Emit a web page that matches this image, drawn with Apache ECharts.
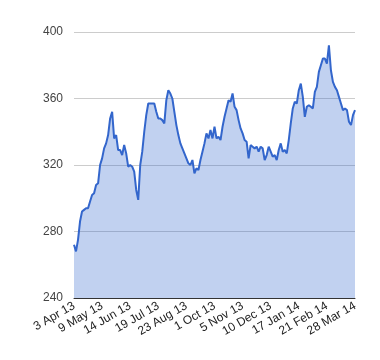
<!DOCTYPE html>
<html>
<head>
<meta charset="utf-8">
<script src="https://cdn.jsdelivr.net/npm/echarts@6/dist/echarts.min.js"></script>
<style>
html,body{margin:0;padding:0;background:#fff;}
#chart{width:380px;height:360px;}
</style>
</head>
<body>
<div id="chart"></div>
<script>
// Tick labels shown every 14 samples along the x axis
var tickLabels = ['3 Apr 13','9 May 13','14 Jun 13','19 Jul 13','23 Aug 13','1 Oct 13','5 Nov 13','10 Dec 13','17 Jan 14','21 Feb 14','28 Mar 14'];
var labelStep = 14;

// Series values (3 Apr 13 .. 28 Mar 14)
var values = [
  272,268,275,286,292,293,294,294,298,302,
  303,308,309,320,324,330,333,338,348,352,
  336,338,329,329,326,332,327,319,320,319,
  316,305,299,320,328,340,350,357,357,357,
  357,352,348,348,347,345,359,365,363,360,
  352,344,338,333,330,327,324,321,320,323,
  315,318,317,323,328,333,339,336,341,336,
  343,336,337,335,343,349,354,359,358,363,
  355,353,347,342,339,335,334,324,332,331,
  330,331,328,331,330,323,326,331,328,325,
  326,323,329,333,328,329,327,335,345,354,
  358,357,365,369,361,349,355,356,355,354,
  364,367,376,380,384,384,381,392,377,370,
  367,365,361,357,353,354,353,346,344,350,
  353
];

var yTicks = {min:240, max:400, interval:40};

var categories = values.map(function(v,i){ return String(i); });

var chart = echarts.init(document.getElementById('chart'), null, {renderer:'canvas'});
chart.setOption({
  animation:false,
  backgroundColor:'#ffffff',
  grid:{left:74, right:25, top:32, bottom:62, containLabel:false},
  xAxis:{
    type:'category',
    data:categories,
    boundaryGap:false,
    axisLine:{show:true, lineStyle:{color:'#333333', width:1}},
    axisTick:{show:false},
    splitLine:{show:false},
    axisLabel:{
      interval:labelStep-1,
      rotate:30,
      margin:7,
      color:'#222222',
      fontFamily:'Liberation Sans, Arial, sans-serif',
      fontSize:12,
      formatter:function(val, idx){
        var i = parseInt(val,10);
        return (i % labelStep === 0) ? tickLabels[i/labelStep] : '';
      }
    }
  },
  yAxis:{
    type:'value',
    min:yTicks.min, max:yTicks.max, interval:yTicks.interval,
    axisLine:{show:false},
    axisTick:{show:false},
    splitLine:{show:true, lineStyle:{color:'#cccccc', width:1}},
    axisLabel:{
      margin:11,
      color:'#444444',
      fontFamily:'Liberation Sans, Arial, sans-serif',
      fontSize:12
    }
  },
  series:[{
    type:'line',
    data:values,
    showSymbol:false,
    smooth:false,
    lineStyle:{color:'#3366cc', width:2},
    itemStyle:{color:'#3366cc'},
    areaStyle:{color:'#3366cc', opacity:0.3}
  }]
});
</script>
</body>
</html>
